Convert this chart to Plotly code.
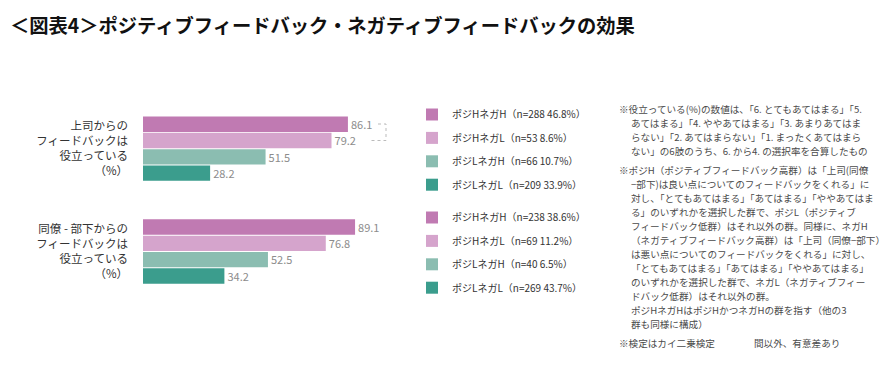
import plotly.graph_objects as go

# page body has an 8px default margin, so the figure is placed at (8, 8)
OFF = 8
W, H = 896 - 2 * OFF, 367 - 2 * OFF

# ---------------- data ----------------
categories = [
    "上司からの<br>フィードバックは<br>役立っている<br>（%）",
    "同僚 - 部下からの<br>フィードバックは<br>役立っている<br>（%）",
]
series = ["ポジHネガH", "ポジHネガL", "ポジLネガH", "ポジLネガL"]
values_boss = [86.1, 79.2, 51.5, 28.2]
values_peer = [89.1, 76.8, 52.5, 34.2]
n_boss = ["n=288 46.8%", "n=53 8.6%", "n=66 10.7%", "n=209 33.9%"]
n_peer = ["n=238 38.6%", "n=69 11.2%", "n=40 6.5%", "n=269 43.7%"]

title_text = "＜図表4＞ポジティブフィードバック・ネガティブフィードバックの効果"
note_lines = [
    "※役立っている(%)の数値は、「6. とてもあてはまる」「5.",
    "あてはまる」「4. ややあてはまる」「3. あまりあてはま",
    "らない」「2. あてはまらない」「1. まったくあてはまら",
    "ない」の6肢のうち、6. から4. の選択率を合算したもの",
    "※ポジH（ポジティブフィードバック高群）は「上司(同僚",
    "−部下)は良い点についてのフィードバックをくれる」に",
    "対し、「とてもあてはまる」「あてはまる」「ややあてはま",
    "る」のいずれかを選択した群で、ポジL（ポジティブ",
    "フィードバック低群）はそれ以外の群。同様に、ネガH",
    "（ネガティブフィードバック高群）は「上司（同僚−部下）",
    "は悪い点についてのフィードバックをくれる」に対し、",
    "「とてもあてはまる」「あてはまる」「ややあてはまる」",
    "のいずれかを選択した群で、ネガL（ネガティブフィー",
    "ドバック低群）はそれ以外の群。",
    "ポジHネガHはポジHかつネガHの群を指す（他の3",
    "群も同様に構成）",
]
test_note_left = "※検定はカイ二乗検定"
test_note_right = "間以外、有意差あり"

# ---------------- style ----------------
colors = ["#C07AB2", "#D5A4CC", "#8BBDB1", "#3B9D8D"]
FONT = "Noto Sans CJK JP"


def px_x(p):
    return (p - OFF) / W


def px_y(p):
    return 1 - (p - OFF) / H


fig = go.Figure()
groups = [(values_boss, n_boss, "legend"), (values_peer, n_peer, "legend2")]
for g, (vals, ns, leg) in enumerate(groups):
    for s in range(len(series)):
        fig.add_trace(go.Bar(
            y=[categories[g]], x=[vals[s]], orientation="h",
            name=f"{series[s]}（{ns[s]}）",
            marker=dict(color=colors[s], line=dict(width=0)),
            offsetgroup=str(s), legend=leg, legendgroup=f"g{g}s{s}",
            text=[f"{vals[s]:.1f}"], textposition="outside",
            textfont=dict(family=FONT, size=11.5, color="#8c8c8c"),
            cliponaxis=False, hoverinfo="skip",
        ))

annotations = []
# title as an annotation anchored at its top edge
annotations.append(dict(
    text=f"<b>{title_text}</b>", x=px_x(8), y=px_y(8.5), xref="paper", yref="paper",
    xanchor="left", yanchor="top", showarrow=False,
    font=dict(family=FONT, size=19.3, color="#111111")))
# notes
y = 109
for i, line in enumerate(note_lines):
    if i == 4:
        y += 5
    x0 = 617 if line.startswith("※") else 629
    annotations.append(dict(
        text=line, x=px_x(x0), y=px_y(y), xref="paper", yref="paper",
        xanchor="left", yanchor="middle", showarrow=False,
        font=dict(family=FONT, size=9.6, color="#4a4a4a")))
    y += 14
y += 5
annotations.append(dict(
    text=test_note_left, x=px_x(617), y=px_y(y), xref="paper", yref="paper",
    xanchor="left", yanchor="middle", showarrow=False,
    font=dict(family=FONT, size=9.6, color="#4a4a4a")))
annotations.append(dict(
    text=test_note_right, x=px_x(752), y=px_y(y), xref="paper", yref="paper",
    xanchor="left", yanchor="middle", showarrow=False,
    font=dict(family=FONT, size=9.6, color="#4a4a4a")))

legend_common = dict(
    font=dict(family=FONT, size=10, color="#333333"),
    bgcolor="rgba(0,0,0,0)", borderwidth=0,
    traceorder="grouped", tracegroupgap=4.4,
    xanchor="left", yanchor="top", itemclick=False, itemdoubleclick=False,
)

fig.update_layout(
    width=W, height=H,
    margin=dict(l=0, r=0, t=0, b=0, autoexpand=False),
    paper_bgcolor="white", plot_bgcolor="white",
    barmode="group", bargap=0.365, bargroupgap=0.06,
    showlegend=True,
    xaxis=dict(domain=[px_x(143), px_x(381)], range=[0, 100], visible=False,
               fixedrange=True, automargin=False),
    yaxis=dict(domain=[px_y(302.9), px_y(97.3)], type="category",
               categoryorder="array", categoryarray=categories,
               autorange="reversed", showgrid=False, zeroline=False, showline=False,
               ticks="", ticklabelstandoff=14, automargin=False,
               tickfont=dict(family=FONT, size=11.5, color="#333333"), fixedrange=True),
    legend=dict(x=px_x(412), y=px_y(100), **legend_common),
    legend2=dict(x=px_x(412), y=px_y(203), **legend_common),
    annotations=annotations,
    shapes=[dict(type="path", xref="paper", yref="paper",
                 path=f"M {px_x(378)},{px_y(124)} L {px_x(386)},{px_y(124)} "
                      f"L {px_x(386)},{px_y(140.5)} L {px_x(369)},{px_y(140.5)}",
                 line=dict(color="#bbbbbb", width=1, dash="dot"))],
)

fig.write_html("out.html")
